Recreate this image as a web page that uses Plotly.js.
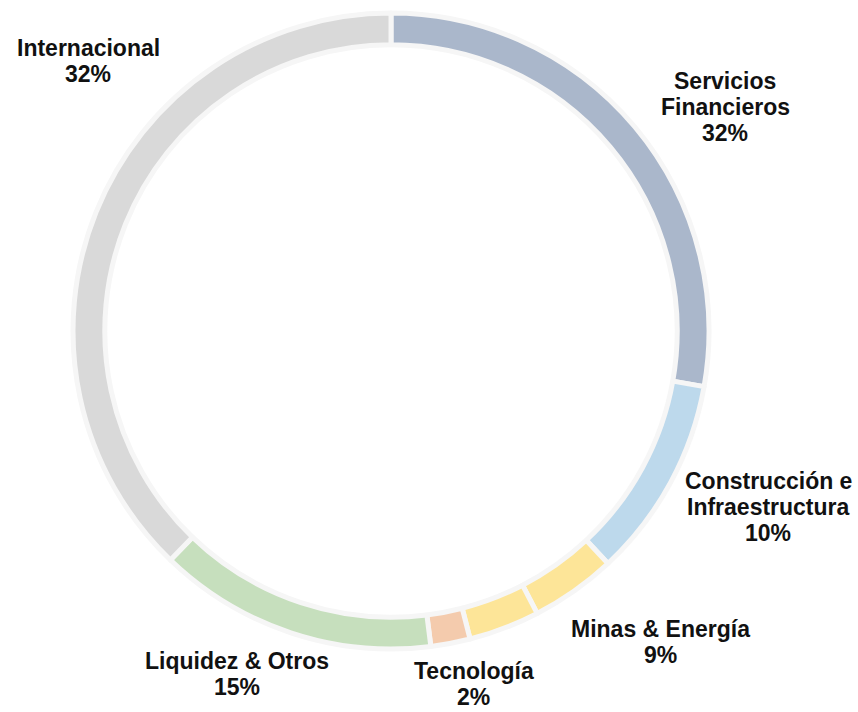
<!DOCTYPE html>
<html>
<head>
<meta charset="utf-8">
<script src="https://cdn.plot.ly/plotly-3.0.1.min.js"></script>
<style>html,body{margin:0;padding:0;background:#fff;}#chart{width:858px;height:712px;}</style>
</head>
<body>
<div id="chart"></div>
<script>
// Data
const sectors = ["Servicios Financieros", "Construcción e Infraestructura", "Minas", "Energía", "Tecnología", "Liquidez & Otros", "Internacional"];
const shares = [27.8, 10.25, 4.35, 3.6, 2.0, 14.2, 37.8];
const colors = ["#aab7cb", "#bdd9ec", "#fde598", "#fde598", "#f4cbad", "#c6dfbd", "#d9d9d9"];
// Label texts as printed on the chart
const labelNames = ["Internacional", "Servicios<br>Financieros", "Construcción e<br>Infraestructura", "Minas & Energía", "Tecnología", "Liquidez & Otros"];
const labelPcts = ["32%", "32%", "10%", "9%", "2%", "15%"];

// Label placement (layout): block centre x, first line centre y (pixels)
const labelPos = [
  {x: 88, y: 47}, {x: 725, y: 80}, {x: 768, y: 480},
  {x: 660, y: 628}, {x: 474, y: 670}, {x: 237, y: 660}
];
const LINE = 26;
const W = 858, H = 712;

const annotations = [];
labelNames.forEach((n, i) => {
  const lines = n.split("<br>").concat([labelPcts[i]]);
  lines.forEach((t, k) => {
    annotations.push({
      text: t,
      x: labelPos[i].x / W, y: 1 - (labelPos[i].y + k * LINE + 1) / H,
      xref: "paper", yref: "paper", xanchor: "center", yanchor: "middle",
      showarrow: false, align: "center", borderpad: 0,
      font: {family: "'Liberation Sans', Arial, sans-serif", size: 23, color: "#111", weight: 700}
    });
  });
});

const cx = 391, cy = 331, R = 318;
const trace = {
  type: "pie",
  labels: sectors,
  values: shares,
  sort: false,
  direction: "clockwise",
  rotation: 0,
  hole: 0.9,
  textinfo: "none",
  hoverinfo: "label+percent",
  marker: {colors: colors, line: {color: "#f6f6f6", width: 5}},
  domain: {x: [(cx - R) / W, (cx + R) / W], y: [(H - cy - R) / H, (H - cy + R) / H]},
  showlegend: false
};

Plotly.newPlot("chart", [trace], {
  width: W, height: H,
  margin: {l: 0, r: 0, t: 0, b: 0},
  paper_bgcolor: "#fff",
  showlegend: false,
  annotations: annotations
}, {displayModeBar: false, staticPlot: true});
</script>
</body>
</html>
